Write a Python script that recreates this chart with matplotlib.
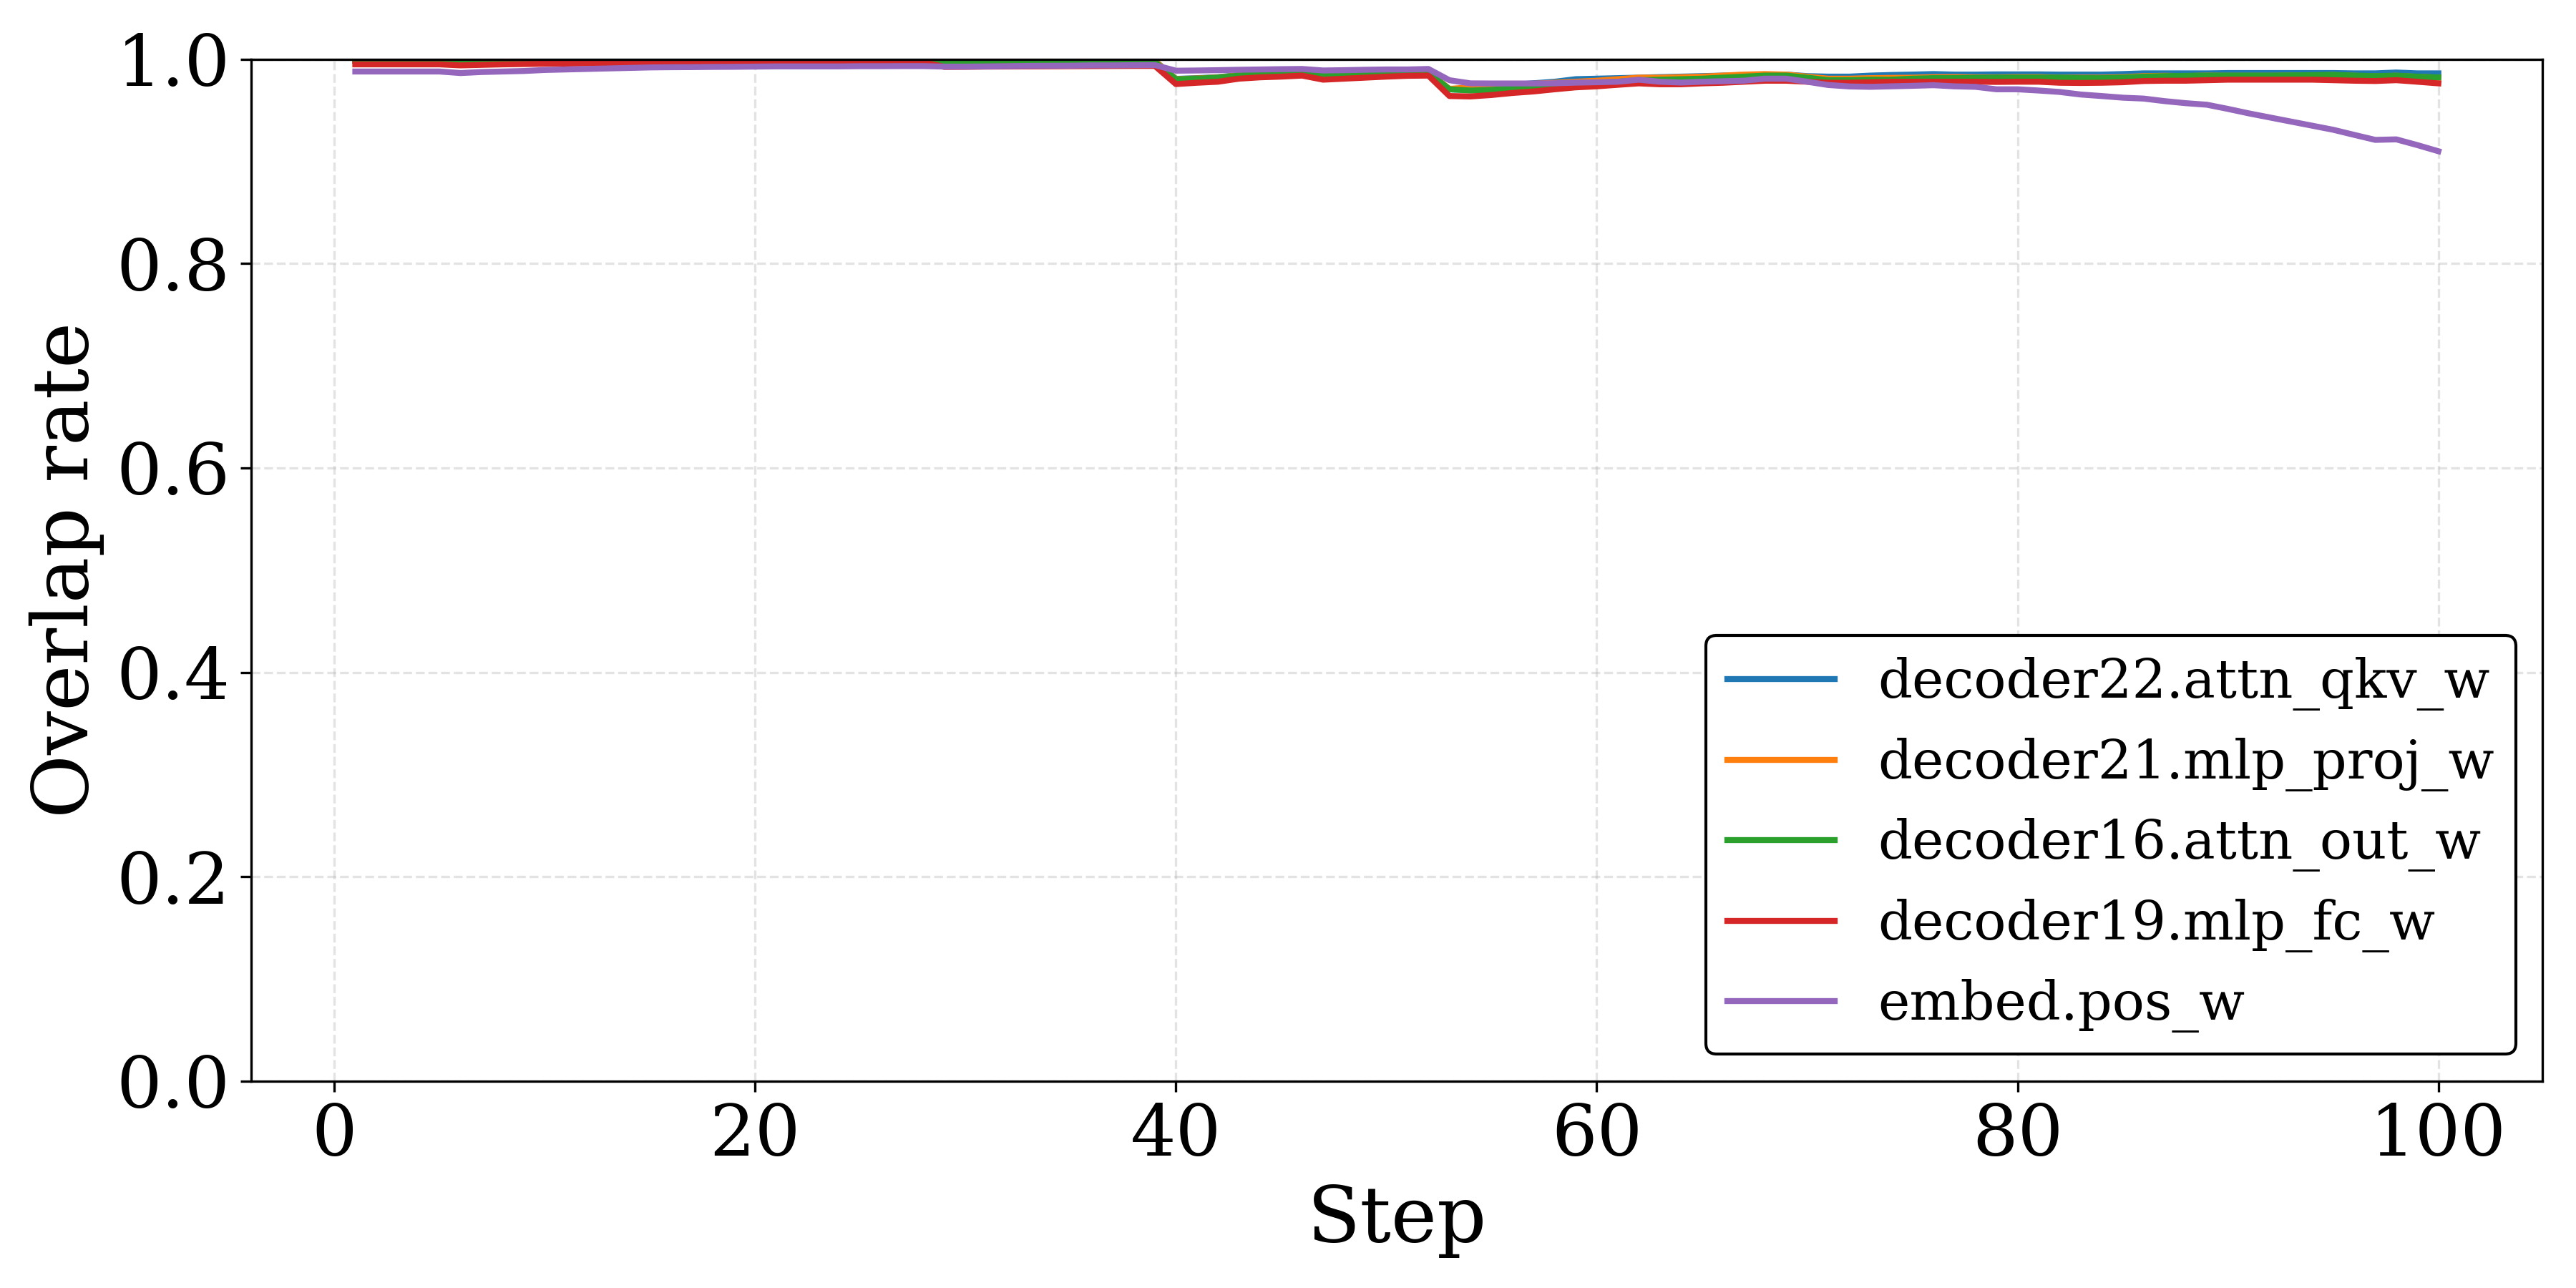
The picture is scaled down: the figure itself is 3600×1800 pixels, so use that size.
import matplotlib
matplotlib.use("Agg")
import matplotlib.pyplot as plt
import numpy as np

plt.rcParams['font.family'] = ['DejaVu Serif']

steps = list(range(1, 101))

blue = [0.9985]*39 + [
    0.9808, 0.9815, 0.9825, 0.9845, 0.9862, 0.9868, 0.9873, 0.9858, 0.9863, 0.9868, 0.9871, 0.9872, 0.9873,
    0.9705, 0.9700, 0.9735, 0.9750, 0.9765, 0.9780, 0.9805, 0.9810, 0.9815, 0.9820, 0.9825, 0.9830,
    0.9835, 0.9840, 0.9845, 0.9850, 0.9850, 0.9835, 0.9830, 0.9830, 0.9840, 0.9846, 0.9850, 0.9855,
    0.9850, 0.9850, 0.9852, 0.9852, 0.9852, 0.9850, 0.9850, 0.9850, 0.9855, 0.9862, 0.9862, 0.9862,
    0.9862, 0.9865, 0.9865, 0.9865, 0.9865, 0.9865, 0.9865, 0.9862, 0.9862, 0.9870, 0.9862, 0.9862]

orange = [0.9985]*39 + [
    0.9806, 0.9812, 0.9822, 0.9842, 0.9860, 0.9866, 0.9871, 0.9856, 0.9861, 0.9866, 0.9869, 0.9870, 0.9871,
    0.9710, 0.9725, 0.9730, 0.9745, 0.9760, 0.9770, 0.9780, 0.9790, 0.9805, 0.9820, 0.9820, 0.9825,
    0.9830, 0.9840, 0.9850, 0.9855, 0.9850, 0.9830, 0.9810, 0.9810, 0.9815, 0.9818, 0.9820, 0.9825,
    0.9825, 0.9823, 0.9823, 0.9825, 0.9825, 0.9820, 0.9820, 0.9820, 0.9825, 0.9835, 0.9838, 0.9835,
    0.9840, 0.9838, 0.9838, 0.9838, 0.9840, 0.9842, 0.9845, 0.9838, 0.9832, 0.9838, 0.9828, 0.9820]

green = [0.9985]*28 + [0.9975]*11 + [
    0.9804, 0.9810, 0.9820, 0.9840, 0.9858, 0.9865, 0.9870, 0.9855, 0.9860, 0.9865, 0.9868, 0.9869, 0.9870,
    0.9706, 0.9694, 0.9700, 0.9715, 0.9730, 0.9745, 0.9760, 0.9770, 0.9780, 0.9795, 0.9800, 0.9805,
    0.9810, 0.9820, 0.9830, 0.9840, 0.9840, 0.9820, 0.9795, 0.9795, 0.9800, 0.9800, 0.9810, 0.9815,
    0.9815, 0.9818, 0.9820, 0.9820, 0.9820, 0.9820, 0.9815, 0.9815, 0.9820, 0.9830, 0.9835, 0.9838,
    0.9840, 0.9840, 0.9840, 0.9840, 0.9842, 0.9845, 0.9848, 0.9840, 0.9835, 0.9840, 0.9830, 0.9822]

red = [0.9950, 0.9950, 0.9950, 0.9950, 0.9950, 0.9940, 0.9945, 0.9950, 0.9953, 0.9956, 0.9958,
       0.9960, 0.9962, 0.9964, 0.9966, 0.9968, 0.9970, 0.9970, 0.9970, 0.9970, 0.9970, 0.9970,
       0.9970, 0.9970, 0.9970, 0.9970, 0.9970, 0.9970,
       0.9925, 0.9926, 0.9928, 0.9929, 0.9930, 0.9931, 0.9932, 0.9933, 0.9934, 0.9935, 0.9935,
       0.9757, 0.9770, 0.9780, 0.9810, 0.9823, 0.9830, 0.9840, 0.9800, 0.9810, 0.9820, 0.9830, 0.9838, 0.9840,
       0.9640, 0.9636, 0.9650, 0.9670, 0.9685, 0.9706, 0.9725, 0.9735, 0.9750, 0.9764, 0.9755, 0.9755,
       0.9764, 0.9770, 0.9780, 0.9790, 0.9790, 0.9780, 0.9770, 0.9770, 0.9775, 0.9780, 0.9780, 0.9780,
       0.9780, 0.9780, 0.9778, 0.9780, 0.9780, 0.9770, 0.9768, 0.9770, 0.9775, 0.9787, 0.9790, 0.9790,
       0.9795, 0.9800, 0.9800, 0.9800, 0.9800, 0.9800, 0.9795, 0.9790, 0.9787, 0.9795, 0.9780, 0.9764]

purple = [0.9880, 0.9880, 0.9880, 0.9880, 0.9880, 0.9865, 0.9875, 0.9880, 0.9885, 0.9895, 0.9900,
          0.9905, 0.9910, 0.9915, 0.9920, 0.9922, 0.9923, 0.9925, 0.9926, 0.9928, 0.9930, 0.9930,
          0.9930, 0.9930, 0.9932, 0.9932, 0.9933, 0.9933,
          0.9928, 0.9928, 0.9930, 0.9932, 0.9935, 0.9936, 0.9937, 0.9940, 0.9940, 0.9942, 0.9943,
          0.9888, 0.9890, 0.9893, 0.9897, 0.9900, 0.9903, 0.9905, 0.9890, 0.9893, 0.9897, 0.9900, 0.9900, 0.9905,
          0.9795, 0.9764, 0.9763, 0.9763, 0.9763, 0.9765, 0.9771, 0.9775, 0.9780, 0.9800, 0.9780, 0.9772,
          0.9780, 0.9785, 0.9790, 0.9810, 0.9810, 0.9780, 0.9748, 0.9734, 0.9730, 0.9735, 0.9740, 0.9746,
          0.9735, 0.9730, 0.9706, 0.9706, 0.9694, 0.9680, 0.9655, 0.9640, 0.9624, 0.9615, 0.9590, 0.9570,
          0.9555, 0.9514, 0.9470, 0.9430, 0.9390, 0.9350, 0.9310, 0.9260, 0.9211, 0.9216, 0.9160, 0.9100]

labels = ["decoder22.attn_qkv_w", "decoder21.mlp_proj_w", "decoder16.attn_out_w",
          "decoder19.mlp_fc_w", "embed.pos_w"]
series = [blue, orange, green, red, purple]
colors = ["#1f77b4", "#ff7f0e", "#2ca02c", "#d62728", "#9467bd"]

fig, ax = plt.subplots(figsize=(12, 6), dpi=300)
fig.subplots_adjust(left=0.0975, right=0.987, top=0.954, bottom=0.1606)

for ys, lab, c in zip(series, labels, colors):
    ax.plot(steps, ys, color=c, linewidth=2, label=lab)

ax.set_ylim(0, 1.0)
ax.set_xlabel("Step", fontsize=26)
ax.set_ylabel("Overlap rate", fontsize=26)
ax.tick_params(axis='both', labelsize=24)
ax.grid(True, linestyle='--', alpha=0.35)
leg = ax.legend(loc='lower right', fontsize=18, framealpha=1.0, edgecolor='black')
leg.get_frame().set_linewidth(1.0)

fig.savefig("out.png", dpi=300)
